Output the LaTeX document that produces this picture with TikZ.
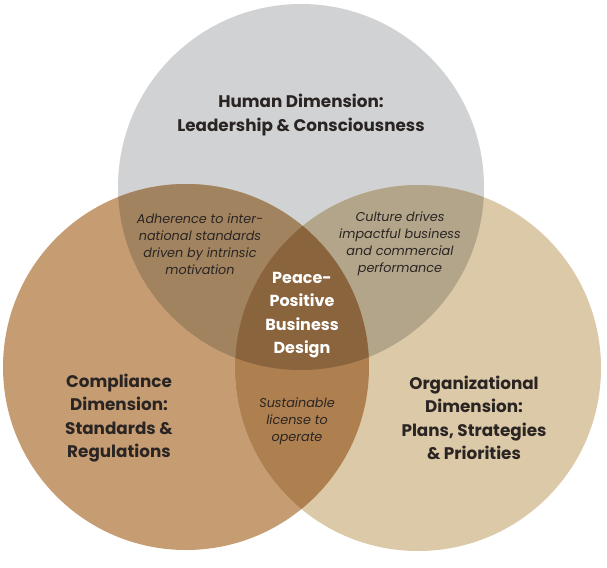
\documentclass[tikz,border=0pt]{standalone}
\usepackage{fontspec}
\setmainfont{Poppins}
\usetikzlibrary{positioning}
\definecolor{hgrey}{HTML}{D1D2D4}
\definecolor{ctan}{HTML}{C69D73}
\definecolor{obeige}{HTML}{DCC9A8}
\definecolor{hcmix}{HTML}{A2835F}
\definecolor{homix}{HTML}{B3A58A}
\definecolor{comix}{HTML}{AE7F4F}
\definecolor{allmix}{HTML}{8A643D}
\definecolor{txt}{HTML}{2A2523}
\tikzset{
    dimlbl/.style={txt,font=\fontsize{16.8}{23.5}\selectfont\bfseries,align=center,inner sep=0pt},
    mixlbl/.style={txt,font=\fontsize{12.8}{17}\selectfont\itshape,align=center,inner sep=0pt},
    corelbl/.style={white,font=\fontsize{16}{23.5}\selectfont\bfseries,align=center,inner sep=0pt}
}

\begin{document}
\begin{tikzpicture}[x=1pt,y=-1pt]
        \useasboundingbox (0,0) rectangle (607,567);
        \def\r{183}
        \coordinate (hum) at (301,187);
        \coordinate (comp) at (186,367);
        \coordinate (org) at (418,368);
        \fill [hgrey] (hum) circle (\r);
        \fill [ctan] (comp) circle (\r);
        \fill [obeige] (org) circle (\r);
        \begin{scope}
            \clip (hum) circle (\r);
            \fill [hcmix] (comp) circle (\r);
            \fill [homix] (org) circle (\r);
        \end{scope}
        \begin{scope}
            \clip (comp) circle (\r);
            \fill [comix] (org) circle (\r);
        \end{scope}
        \begin{scope}
            \clip (hum) circle (\r);
            \clip (comp) circle (\r);
            \fill [allmix] (org) circle (\r);
        \end{scope}
        \node [dimlbl] (human) at (301,115) {Human Dimension:\\Leadership \& Consciousness};
        \node [dimlbl] (compliance) at (119,418) {Compliance\\Dimension:\\Standards \&\\Regulations};
        \node [dimlbl] (organizational) at (474,418) {Organizational\\Dimension:\\Plans, Strategies\\\& Priorities};
        \node [mixlbl] (adherence) at (200,244) {Adherence to inter-\\national standards\\driven by intrinsic\\motivation};
        \node [mixlbl] (culture) at (400,244) {Culture drives\\impactful business\\and commercial\\performance};
        \node [mixlbl] (license) at (297,421) {Sustainable\\license to\\operate};
        \node [corelbl] (core) at (302,315) {Peace-\\Positive\\Business\\Design};
    \end{tikzpicture}
\end{document}
